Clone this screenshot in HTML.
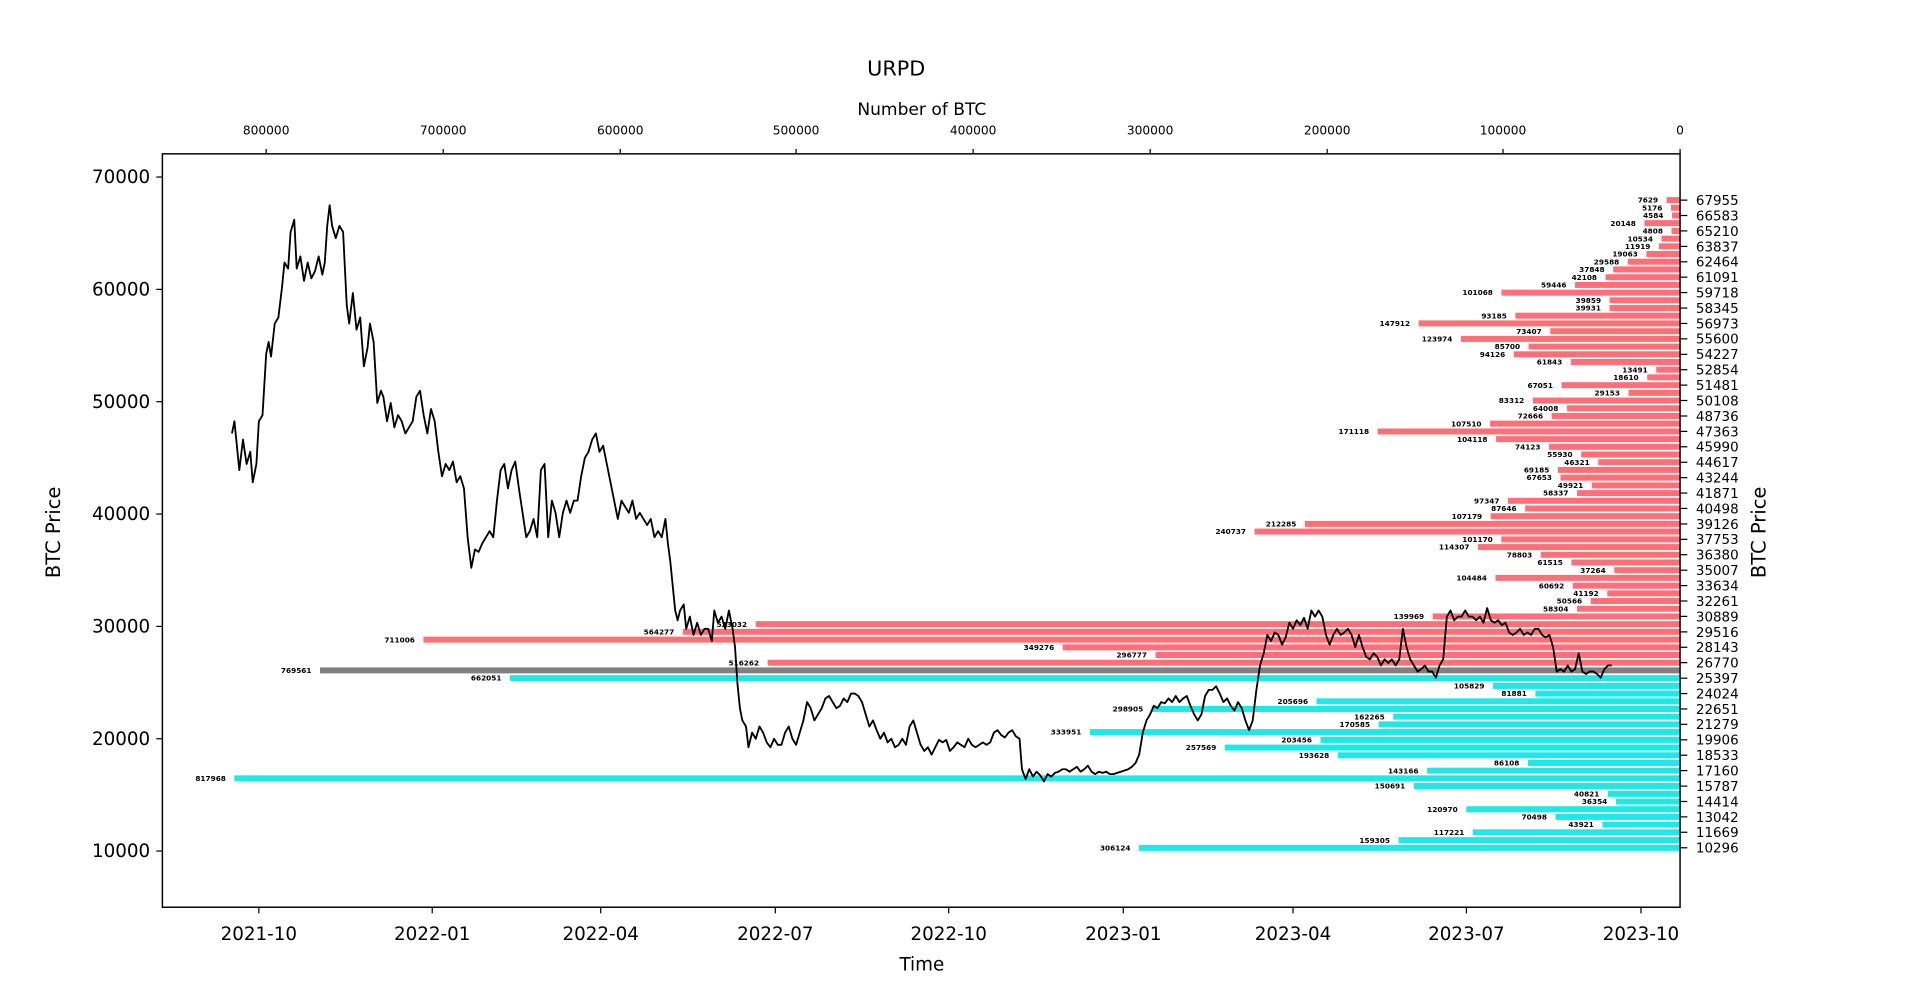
<!DOCTYPE html>
<html><head><meta charset="utf-8"><style>
html,body{margin:0;padding:0;background:#fff;}
svg{display:block;font-family:"DejaVu Sans","Liberation Sans",sans-serif;}
.bl{font-size:6px;font-weight:bold;text-anchor:end;fill:#000;}
.rt{font-size:11px;fill:#000;}
</style></head><body>
<svg width="1914" height="996" viewBox="0 0 1567.6 815.7" preserveAspectRatio="none" xmlns="http://www.w3.org/2000/svg">
<rect width="1567.6" height="815.7" fill="#fff"/>
<text x="734" y="62" font-size="17" text-anchor="middle">URPD</text>
<text x="755" y="94" font-size="14" text-anchor="middle">Number of BTC</text>
<g stroke="#000" stroke-width="1">
<line x1="218" y1="126" x2="218" y2="122"/><line x1="363" y1="126" x2="363" y2="122"/><line x1="508" y1="126" x2="508" y2="122"/><line x1="652" y1="126" x2="652" y2="122"/><line x1="797" y1="126" x2="797" y2="122"/><line x1="942" y1="126" x2="942" y2="122"/><line x1="1087" y1="126" x2="1087" y2="122"/><line x1="1231" y1="126" x2="1231" y2="122"/><line x1="1376" y1="126" x2="1376" y2="122"/>
</g>
<g font-size="10" text-anchor="middle">
<text x="218" y="110">800000</text><text x="363" y="110">700000</text><text x="508" y="110">600000</text><text x="652" y="110">500000</text><text x="797" y="110">400000</text><text x="942" y="110">300000</text><text x="1087" y="110">200000</text><text x="1231" y="110">100000</text><text x="1376" y="110">0</text>
</g>
<g fill="#ff6f78">
<rect x="1365.0" y="161.4" width="11.0" height="4.9"/>
<rect x="1368.5" y="167.7" width="7.5" height="4.9"/>
<rect x="1369.4" y="174.0" width="6.6" height="4.9"/>
<rect x="1346.8" y="180.3" width="29.2" height="4.9"/>
<rect x="1369.0" y="186.7" width="7.0" height="4.9"/>
<rect x="1360.8" y="193.0" width="15.2" height="4.9"/>
<rect x="1358.7" y="199.3" width="17.3" height="4.9"/>
<rect x="1348.4" y="205.6" width="27.6" height="4.9"/>
<rect x="1333.2" y="211.9" width="42.8" height="4.9"/>
<rect x="1321.2" y="218.2" width="54.8" height="4.9"/>
<rect x="1315.0" y="224.6" width="61.0" height="4.9"/>
<rect x="1290.0" y="230.9" width="86.0" height="4.9"/>
<rect x="1229.7" y="237.2" width="146.3" height="4.9"/>
<rect x="1318.3" y="243.5" width="57.7" height="4.9"/>
<rect x="1318.2" y="249.8" width="57.8" height="4.9"/>
<rect x="1241.1" y="256.1" width="134.9" height="4.9"/>
<rect x="1161.9" y="262.4" width="214.1" height="4.9"/>
<rect x="1269.7" y="268.8" width="106.3" height="4.9"/>
<rect x="1196.5" y="275.1" width="179.5" height="4.9"/>
<rect x="1252.0" y="281.4" width="124.0" height="4.9"/>
<rect x="1239.8" y="287.7" width="136.2" height="4.9"/>
<rect x="1286.5" y="294.0" width="89.5" height="4.9"/>
<rect x="1356.5" y="300.3" width="19.5" height="4.9"/>
<rect x="1349.1" y="306.6" width="26.9" height="4.9"/>
<rect x="1278.9" y="313.0" width="97.1" height="4.9"/>
<rect x="1333.8" y="319.3" width="42.2" height="4.9"/>
<rect x="1255.4" y="325.6" width="120.6" height="4.9"/>
<rect x="1283.3" y="331.9" width="92.7" height="4.9"/>
<rect x="1270.8" y="338.2" width="105.2" height="4.9"/>
<rect x="1220.4" y="344.5" width="155.6" height="4.9"/>
<rect x="1128.3" y="350.9" width="247.7" height="4.9"/>
<rect x="1225.3" y="357.2" width="150.7" height="4.9"/>
<rect x="1268.7" y="363.5" width="107.3" height="4.9"/>
<rect x="1295.0" y="369.8" width="81.0" height="4.9"/>
<rect x="1309.0" y="376.1" width="67.0" height="4.9"/>
<rect x="1275.9" y="382.4" width="100.1" height="4.9"/>
<rect x="1278.1" y="388.7" width="97.9" height="4.9"/>
<rect x="1303.7" y="395.1" width="72.3" height="4.9"/>
<rect x="1291.6" y="401.4" width="84.4" height="4.9"/>
<rect x="1235.1" y="407.7" width="140.9" height="4.9"/>
<rect x="1249.1" y="414.0" width="126.9" height="4.9"/>
<rect x="1220.9" y="420.3" width="155.1" height="4.9"/>
<rect x="1068.7" y="426.6" width="307.3" height="4.9"/>
<rect x="1027.5" y="432.9" width="348.5" height="4.9"/>
<rect x="1229.6" y="439.3" width="146.4" height="4.9"/>
<rect x="1210.5" y="445.6" width="165.5" height="4.9"/>
<rect x="1261.9" y="451.9" width="114.1" height="4.9"/>
<rect x="1287.0" y="458.2" width="89.0" height="4.9"/>
<rect x="1322.1" y="464.5" width="53.9" height="4.9"/>
<rect x="1224.8" y="470.8" width="151.2" height="4.9"/>
<rect x="1288.1" y="477.2" width="87.9" height="4.9"/>
<rect x="1316.4" y="483.5" width="59.6" height="4.9"/>
<rect x="1302.8" y="489.8" width="73.2" height="4.9"/>
<rect x="1291.6" y="496.1" width="84.4" height="4.9"/>
<rect x="1173.4" y="502.4" width="202.6" height="4.9"/>
<rect x="618.9" y="508.7" width="757.1" height="4.9"/>
<rect x="559.2" y="515.0" width="816.8" height="4.9"/>
<rect x="346.8" y="521.4" width="1029.2" height="4.9"/>
<rect x="870.4" y="527.7" width="505.6" height="4.9"/>
<rect x="946.4" y="534.0" width="429.6" height="4.9"/>
<rect x="628.7" y="540.3" width="747.3" height="4.9"/>
</g>
<rect x="262.1" y="546.6" width="1113.9" height="4.9" fill="#808080"/>
<g fill="#1fe8e6">
<rect x="417.7" y="552.9" width="958.3" height="4.9"/>
<rect x="1222.8" y="559.3" width="153.2" height="4.9"/>
<rect x="1257.5" y="565.6" width="118.5" height="4.9"/>
<rect x="1078.3" y="571.9" width="297.7" height="4.9"/>
<rect x="943.3" y="578.2" width="432.7" height="4.9"/>
<rect x="1141.1" y="584.5" width="234.9" height="4.9"/>
<rect x="1129.1" y="590.8" width="246.9" height="4.9"/>
<rect x="892.6" y="597.1" width="483.4" height="4.9"/>
<rect x="1081.5" y="603.5" width="294.5" height="4.9"/>
<rect x="1003.2" y="609.8" width="372.8" height="4.9"/>
<rect x="1095.7" y="616.1" width="280.3" height="4.9"/>
<rect x="1251.4" y="622.4" width="124.6" height="4.9"/>
<rect x="1168.8" y="628.7" width="207.2" height="4.9"/>
<rect x="192.0" y="635.0" width="1184.0" height="4.9"/>
<rect x="1157.9" y="641.3" width="218.1" height="4.9"/>
<rect x="1316.9" y="647.7" width="59.1" height="4.9"/>
<rect x="1323.4" y="654.0" width="52.6" height="4.9"/>
<rect x="1200.9" y="660.3" width="175.1" height="4.9"/>
<rect x="1274.0" y="666.6" width="102.0" height="4.9"/>
<rect x="1312.4" y="672.9" width="63.6" height="4.9"/>
<rect x="1206.3" y="679.2" width="169.7" height="4.9"/>
<rect x="1145.4" y="685.6" width="230.6" height="4.9"/>
<rect x="932.9" y="691.9" width="443.1" height="4.9"/>
</g>
<g class="bl">
<text x="1358" y="166">7629</text>
<text x="1361.5" y="172.3">5176</text>
<text x="1362.4" y="178.6">4584</text>
<text x="1339.8" y="184.9">20148</text>
<text x="1362" y="191.3">4808</text>
<text x="1353.8" y="197.6">10534</text>
<text x="1351.7" y="203.9">11919</text>
<text x="1341.4" y="210.2">19063</text>
<text x="1326.2" y="216.5">29588</text>
<text x="1314.2" y="222.8">37848</text>
<text x="1308" y="229.2">42108</text>
<text x="1283" y="235.5">59446</text>
<text x="1222.7" y="241.8">101068</text>
<text x="1311.3" y="248.1">39859</text>
<text x="1311.2" y="254.4">39931</text>
<text x="1234.1" y="260.7">93185</text>
<text x="1154.9" y="267">147912</text>
<text x="1262.7" y="273.4">73407</text>
<text x="1189.5" y="279.7">123974</text>
<text x="1245" y="286">85700</text>
<text x="1232.8" y="292.3">94126</text>
<text x="1279.5" y="298.6">61843</text>
<text x="1349.5" y="304.9">13491</text>
<text x="1342.1" y="311.2">18610</text>
<text x="1271.9" y="317.6">67051</text>
<text x="1326.8" y="323.9">29153</text>
<text x="1248.4" y="330.2">83312</text>
<text x="1276.3" y="336.5">64008</text>
<text x="1263.8" y="342.8">72666</text>
<text x="1213.4" y="349.1">107510</text>
<text x="1121.3" y="355.5">171118</text>
<text x="1218.3" y="361.8">104118</text>
<text x="1261.7" y="368.1">74123</text>
<text x="1288" y="374.4">55930</text>
<text x="1302" y="380.7">46321</text>
<text x="1268.9" y="387">69185</text>
<text x="1271.1" y="393.3">67653</text>
<text x="1296.7" y="399.7">49921</text>
<text x="1284.6" y="406">58337</text>
<text x="1228.1" y="412.3">97347</text>
<text x="1242.1" y="418.6">87646</text>
<text x="1213.9" y="424.9">107179</text>
<text x="1061.7" y="431.2">212285</text>
<text x="1020.5" y="437.5">240737</text>
<text x="1222.6" y="443.9">101170</text>
<text x="1203.5" y="450.2">114307</text>
<text x="1254.9" y="456.5">78803</text>
<text x="1280" y="462.8">61515</text>
<text x="1315.1" y="469.1">37264</text>
<text x="1217.8" y="475.4">104484</text>
<text x="1281.1" y="481.8">60692</text>
<text x="1309.4" y="488.1">41192</text>
<text x="1295.8" y="494.4">50566</text>
<text x="1284.6" y="500.7">58304</text>
<text x="1166.4" y="507">139969</text>
<text x="611.9" y="513.3">523032</text>
<text x="552.2" y="519.6">564277</text>
<text x="339.8" y="526">711006</text>
<text x="863.4" y="532.3">349276</text>
<text x="939.4" y="538.6">296777</text>
<text x="621.7" y="544.9">516262</text>
<text x="255.1" y="551.2">769561</text>
<text x="410.7" y="557.5">662051</text>
<text x="1215.8" y="563.9">105829</text>
<text x="1250.5" y="570.2">81881</text>
<text x="1071.3" y="576.5">205696</text>
<text x="936.3" y="582.8">298905</text>
<text x="1134.1" y="589.1">162265</text>
<text x="1122.1" y="595.4">170585</text>
<text x="885.6" y="601.7">333951</text>
<text x="1074.5" y="608.1">203456</text>
<text x="996.2" y="614.4">257569</text>
<text x="1088.7" y="620.7">193628</text>
<text x="1244.4" y="627">86108</text>
<text x="1161.8" y="633.3">143166</text>
<text x="185" y="639.6">817968</text>
<text x="1150.9" y="645.9">150691</text>
<text x="1309.9" y="652.3">40821</text>
<text x="1316.4" y="658.6">36354</text>
<text x="1193.9" y="664.9">120970</text>
<text x="1267" y="671.2">70498</text>
<text x="1305.4" y="677.5">43921</text>
<text x="1199.3" y="683.8">117221</text>
<text x="1138.4" y="690.2">159305</text>
<text x="925.9" y="696.5">306124</text>
</g>
<polyline fill="none" stroke="#000" stroke-width="1.5" stroke-linejoin="round" points="190,355 192,345 196,385 199,360 202,380 205,370 207,395 210,380 212,345 215,340 218,290 220,280 222,292 225,265 228,260 231,235 233,215 236,220 238,190 241,180 243,220 246,210 249,230 252,215 255,228 258,222 261,210 264,225 266,215 268,185 270,168 272,185 275,195 278,185 281,190 284,250 286,265 289,240 292,270 295,260 298,300 301,285 303,265 306,280 309,330 312,320 314,325 317,345 320,330 323,350 326,340 329,345 332,355 335,350 338,345 341,325 344,320 347,340 350,355 353,335 356,345 359,370 362,390 365,380 368,385 371,378 374,395 377,390 380,400 383,440 386,465 389,450 392,452 395,445 398,440 401,435 404,440 407,410 410,385 413,380 416,400 419,385 422,378 425,400 428,420 431,440 434,435 437,425 440,440 443,385 446,380 449,440 452,410 455,420 458,440 461,420 464,410 467,420 470,410 473,410 476,390 479,375 482,370 485,360 488,355 491,370 494,365 497,380 500,395 503,410 506,425 509,410 512,415 515,420 518,410 521,425 524,420 527,425 530,430 533,425 536,440 539,435 542,440 545,425 547,445 549,460 551,480 553,500 555,508 557,500 560,495 562,515 565,505 568,520 571,510 574,520 577,515 580,515 583,525 585,500 588,510 591,505 594,515 597,500 600,515 602,530 604,560 606,580 608,590 611,595 613,612 616,600 619,605 622,595 625,600 628,608 631,612 634,605 637,610 640,610 643,600 646,595 649,605 652,610 655,600 658,590 661,575 664,580 667,590 670,585 673,580 676,572 679,570 682,575 685,580 688,578 691,572 694,575 697,568 700,568 703,570 706,575 709,585 712,595 715,590 718,598 721,605 724,600 727,608 730,605 733,612 736,610 739,605 742,610 745,595 748,590 751,600 754,610 757,615 760,612 763,618 766,612 769,606 772,608 775,606 778,615 781,612 784,608 787,610 790,612 793,605 796,610 799,612 802,610 805,608 808,610 811,608 814,600 817,598 820,602 823,604 826,600 829,598 832,603 835,605 837,630 840,638 843,630 846,636 849,632 852,635 855,640 858,634 861,636 864,633 867,632 870,630 873,630 876,632 879,630 882,628 885,632 888,630 891,627 894,632 897,634 900,632 903,633 906,632 909,634 912,634 915,633 918,632 921,631 924,630 927,628 930,625 933,618 936,600 939,590 942,585 945,578 948,580 951,575 954,576 957,572 960,575 963,570 966,575 969,572 972,570 975,578 978,585 981,590 984,585 987,570 990,565 993,565 996,562 999,568 1002,575 1005,572 1008,578 1011,582 1014,575 1017,580 1020,590 1023,598 1026,590 1029,565 1032,545 1035,535 1038,520 1041,525 1044,518 1047,520 1050,528 1053,522 1056,510 1059,515 1062,508 1065,512 1068,506 1071,515 1074,500 1077,505 1080,500 1083,505 1086,520 1089,528 1092,520 1095,515 1098,520 1101,518 1104,515 1107,520 1110,530 1113,520 1116,530 1119,538 1122,540 1125,535 1128,538 1131,545 1134,540 1137,543 1140,540 1143,545 1146,540 1149,515 1152,530 1155,540 1158,545 1161,550 1164,548 1167,545 1170,550 1173,550 1176,555 1179,545 1182,540 1185,505 1188,500 1191,508 1194,505 1197,505 1200,500 1203,505 1206,505 1209,508 1212,505 1215,510 1218,498 1221,508 1224,510 1227,508 1230,512 1233,510 1236,518 1239,520 1242,518 1245,515 1248,520 1251,518 1254,520 1257,515 1260,515 1263,520 1266,522 1269,520 1272,530 1275,550 1278,548 1281,550 1284,545 1287,550 1290,548 1293,535 1296,550 1299,552 1302,550 1305,550 1308,552 1311,555 1314,548 1317,545 1320,545"/>
<rect x="133" y="126" width="1243" height="617" fill="none" stroke="#000" stroke-width="1.2"/>
<g stroke="#000" stroke-width="1">
<line x1="133" y1="145" x2="128" y2="145"/><line x1="133" y1="237" x2="128" y2="237"/><line x1="133" y1="329" x2="128" y2="329"/><line x1="133" y1="421" x2="128" y2="421"/><line x1="133" y1="513" x2="128" y2="513"/><line x1="133" y1="605" x2="128" y2="605"/><line x1="133" y1="697" x2="128" y2="697"/>
<line x1="212" y1="743" x2="212" y2="748"/><line x1="354" y1="743" x2="354" y2="748"/><line x1="492" y1="743" x2="492" y2="748"/><line x1="635" y1="743" x2="635" y2="748"/><line x1="777" y1="743" x2="777" y2="748"/><line x1="920" y1="743" x2="920" y2="748"/><line x1="1059" y1="743" x2="1059" y2="748"/><line x1="1201" y1="743" x2="1201" y2="748"/><line x1="1344" y1="743" x2="1344" y2="748"/>
</g>
<g font-size="15" text-anchor="end">
<text x="123" y="150">70000</text><text x="123" y="242">60000</text><text x="123" y="334">50000</text><text x="123" y="426">40000</text><text x="123" y="518">30000</text><text x="123" y="610">20000</text><text x="123" y="702">10000</text>
</g>
<g font-size="15" text-anchor="middle">
<text x="212" y="770">2021-10</text><text x="354" y="770">2022-01</text><text x="492" y="770">2022-04</text><text x="635" y="770">2022-07</text><text x="777" y="770">2022-10</text><text x="920" y="770">2023-01</text><text x="1059" y="770">2023-04</text><text x="1201" y="770">2023-07</text><text x="1344" y="770">2023-10</text>
</g>
<text x="755" y="795" font-size="15" text-anchor="middle">Time</text>
<text transform="translate(49,436) rotate(-90)" font-size="16" text-anchor="middle">BTC Price</text>
<text transform="translate(1446,436) rotate(-90)" font-size="16" text-anchor="middle">BTC Price</text>
<g stroke="#000" stroke-width="1">
<line x1="1376" y1="163.9" x2="1382" y2="163.9"/><line x1="1376" y1="176.5" x2="1382" y2="176.5"/><line x1="1376" y1="189.1" x2="1382" y2="189.1"/><line x1="1376" y1="201.8" x2="1382" y2="201.8"/><line x1="1376" y1="214.4" x2="1382" y2="214.4"/><line x1="1376" y1="227.0" x2="1382" y2="227.0"/><line x1="1376" y1="239.6" x2="1382" y2="239.6"/><line x1="1376" y1="252.3" x2="1382" y2="252.3"/><line x1="1376" y1="264.9" x2="1382" y2="264.9"/><line x1="1376" y1="277.5" x2="1382" y2="277.5"/><line x1="1376" y1="290.2" x2="1382" y2="290.2"/><line x1="1376" y1="302.8" x2="1382" y2="302.8"/><line x1="1376" y1="315.4" x2="1382" y2="315.4"/><line x1="1376" y1="328.0" x2="1382" y2="328.0"/><line x1="1376" y1="340.7" x2="1382" y2="340.7"/><line x1="1376" y1="353.3" x2="1382" y2="353.3"/><line x1="1376" y1="365.9" x2="1382" y2="365.9"/><line x1="1376" y1="378.6" x2="1382" y2="378.6"/><line x1="1376" y1="391.2" x2="1382" y2="391.2"/><line x1="1376" y1="403.8" x2="1382" y2="403.8"/><line x1="1376" y1="416.4" x2="1382" y2="416.4"/><line x1="1376" y1="429.1" x2="1382" y2="429.1"/><line x1="1376" y1="441.7" x2="1382" y2="441.7"/><line x1="1376" y1="454.3" x2="1382" y2="454.3"/><line x1="1376" y1="467.0" x2="1382" y2="467.0"/><line x1="1376" y1="479.6" x2="1382" y2="479.6"/><line x1="1376" y1="492.2" x2="1382" y2="492.2"/><line x1="1376" y1="504.8" x2="1382" y2="504.8"/><line x1="1376" y1="517.5" x2="1382" y2="517.5"/><line x1="1376" y1="530.1" x2="1382" y2="530.1"/><line x1="1376" y1="542.7" x2="1382" y2="542.7"/><line x1="1376" y1="555.4" x2="1382" y2="555.4"/><line x1="1376" y1="568.0" x2="1382" y2="568.0"/><line x1="1376" y1="580.6" x2="1382" y2="580.6"/><line x1="1376" y1="593.2" x2="1382" y2="593.2"/><line x1="1376" y1="605.9" x2="1382" y2="605.9"/><line x1="1376" y1="618.5" x2="1382" y2="618.5"/><line x1="1376" y1="631.1" x2="1382" y2="631.1"/><line x1="1376" y1="643.8" x2="1382" y2="643.8"/><line x1="1376" y1="656.4" x2="1382" y2="656.4"/><line x1="1376" y1="669.0" x2="1382" y2="669.0"/><line x1="1376" y1="681.6" x2="1382" y2="681.6"/><line x1="1376" y1="694.3" x2="1382" y2="694.3"/>
</g>
<g class="rt">
<text x="1389" y="167.9">67955</text><text x="1389" y="180.5">66583</text><text x="1389" y="193.1">65210</text><text x="1389" y="205.8">63837</text><text x="1389" y="218.4">62464</text><text x="1389" y="231.0">61091</text><text x="1389" y="243.6">59718</text><text x="1389" y="256.3">58345</text><text x="1389" y="268.9">56973</text><text x="1389" y="281.5">55600</text><text x="1389" y="294.2">54227</text><text x="1389" y="306.8">52854</text><text x="1389" y="319.4">51481</text><text x="1389" y="332.0">50108</text><text x="1389" y="344.7">48736</text><text x="1389" y="357.3">47363</text><text x="1389" y="369.9">45990</text><text x="1389" y="382.6">44617</text><text x="1389" y="395.2">43244</text><text x="1389" y="407.8">41871</text><text x="1389" y="420.4">40498</text><text x="1389" y="433.1">39126</text><text x="1389" y="445.7">37753</text><text x="1389" y="458.3">36380</text><text x="1389" y="471.0">35007</text><text x="1389" y="483.6">33634</text><text x="1389" y="496.2">32261</text><text x="1389" y="508.8">30889</text><text x="1389" y="521.5">29516</text><text x="1389" y="534.1">28143</text><text x="1389" y="546.7">26770</text><text x="1389" y="559.4">25397</text><text x="1389" y="572.0">24024</text><text x="1389" y="584.6">22651</text><text x="1389" y="597.2">21279</text><text x="1389" y="609.9">19906</text><text x="1389" y="622.5">18533</text><text x="1389" y="635.1">17160</text><text x="1389" y="647.8">15787</text><text x="1389" y="660.4">14414</text><text x="1389" y="673.0">13042</text><text x="1389" y="685.6">11669</text><text x="1389" y="698.3">10296</text>
</g>
</svg>
</body></html>
